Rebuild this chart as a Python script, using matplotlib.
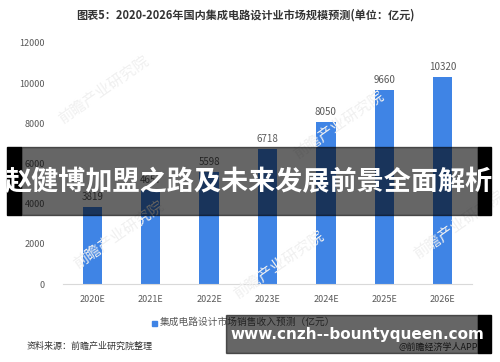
import matplotlib
matplotlib.use("Agg")
import matplotlib.pyplot as plt
from matplotlib.patches import Rectangle
import numpy as np

plt.rcParams['font.family'] = ['Noto Sans CJK SC', 'DejaVu Sans']

# 数据
years = ['2020E', '2021E', '2022E', '2023E', '2024E', '2025E', '2026E']
values = [3819, 4657, 5598, 6718, 8050, 9660, 10320]
yticks = [0, 2000, 4000, 6000, 8000, 10000, 12000]

title = '图表5：2020-2026年国内集成电路设计业市场规模预测(单位：亿元)'
legend_txt = '集成电路设计市场销售收入预测（亿元）'
source_txt = '资料来源：前瞻产业研究院整理'
banner_txt = '赵健博加盟之路及未来发展前景全面解析'
url_txt = 'www.cnzh--bountyqueen.com'

W, H = 500, 362
fig = plt.figure(figsize=(W/100, H/100), dpi=100)
fig.patch.set_facecolor('white')

def px(x, y):
    return x / W, 1 - y / H

ax = fig.add_axes([63/W, 1-284/H, (472-63)/W, (284-43)/H])
ax.patch.set_alpha(0)
x = np.arange(len(years))
bars = ax.bar(x, values, width=0.33, color='#3f84e5', zorder=2)
for xi, v in zip(x, values):
    ax.text(xi, v + 250, str(v), ha='center', va='bottom', fontsize=7, color='#595959')

ax.set_xlim(-0.5, len(years) - 0.5)
ax.set_ylim(0, 12000)
ax.set_yticks(yticks)
ax.set_yticklabels([str(t) for t in yticks])
ax.set_xticks(x)
ax.set_xticklabels(years)
ax.tick_params(axis='both', length=0, labelsize=6.5, colors='#595959')
ax.tick_params(axis='y', pad=13)
ax.tick_params(axis='x', pad=8)
for s in ['top', 'right', 'left']:
    ax.spines[s].set_visible(False)
ax.spines['bottom'].set_color('#d9d9d9')

# 水印
for wx, wy in [(55, 90), (70, 235), (290, 125), (230, 265), (410, 225)]:
    fig.text(*px(wx, wy), '前瞻产业研究院', fontsize=11, color='#f0f0f0',
             rotation=35, ha='left', va='center', zorder=0)

fig.text(*px(245, 15), title, ha='center', va='center', fontsize=8,
         fontweight='bold', color='#333333')

# 图例
fig.patches.append(Rectangle(px(152, 326), 5/W, 5/H, transform=fig.transFigure,
                             color='#3f84e5', figure=fig))
fig.text(*px(160, 322), legend_txt, ha='left', va='center', fontsize=7, color='#595959')
fig.text(*px(27, 346), source_txt, ha='left', va='center', fontsize=6.5, color='#333333')
fig.text(*px(478, 347), '@前瞻经济学人APP', ha='right', va='center', fontsize=6.5, color='#333333')

# 覆盖横幅
def rect(x0, y0, x1, y1, color, alpha):
    fig.patches.append(Rectangle(px(x0, y1), (x1-x0)/W, (y1-y0)/H, transform=fig.transFigure,
                                 color=color, alpha=alpha, figure=fig, zorder=5))

rect(7, 147, 21, 215, 'black', 1.0)
rect(21, 147, 478, 215, 'black', 0.6)
rect(478, 147, 491, 215, 'black', 1.0)
fig.text(*px(249, 182), banner_txt, ha='center', va='center', fontsize=19.5,
         fontweight='bold', color='white', zorder=6)

rect(226, 315, 478, 353, 'black', 0.6)
rect(478, 315, 491, 353, 'black', 1.0)
fig.text(*px(357, 335), url_txt, ha='center', va='center', fontsize=11,
         fontweight='bold', color='white', family='DejaVu Sans', zorder=6)

fig.savefig('out.png', dpi=100)
